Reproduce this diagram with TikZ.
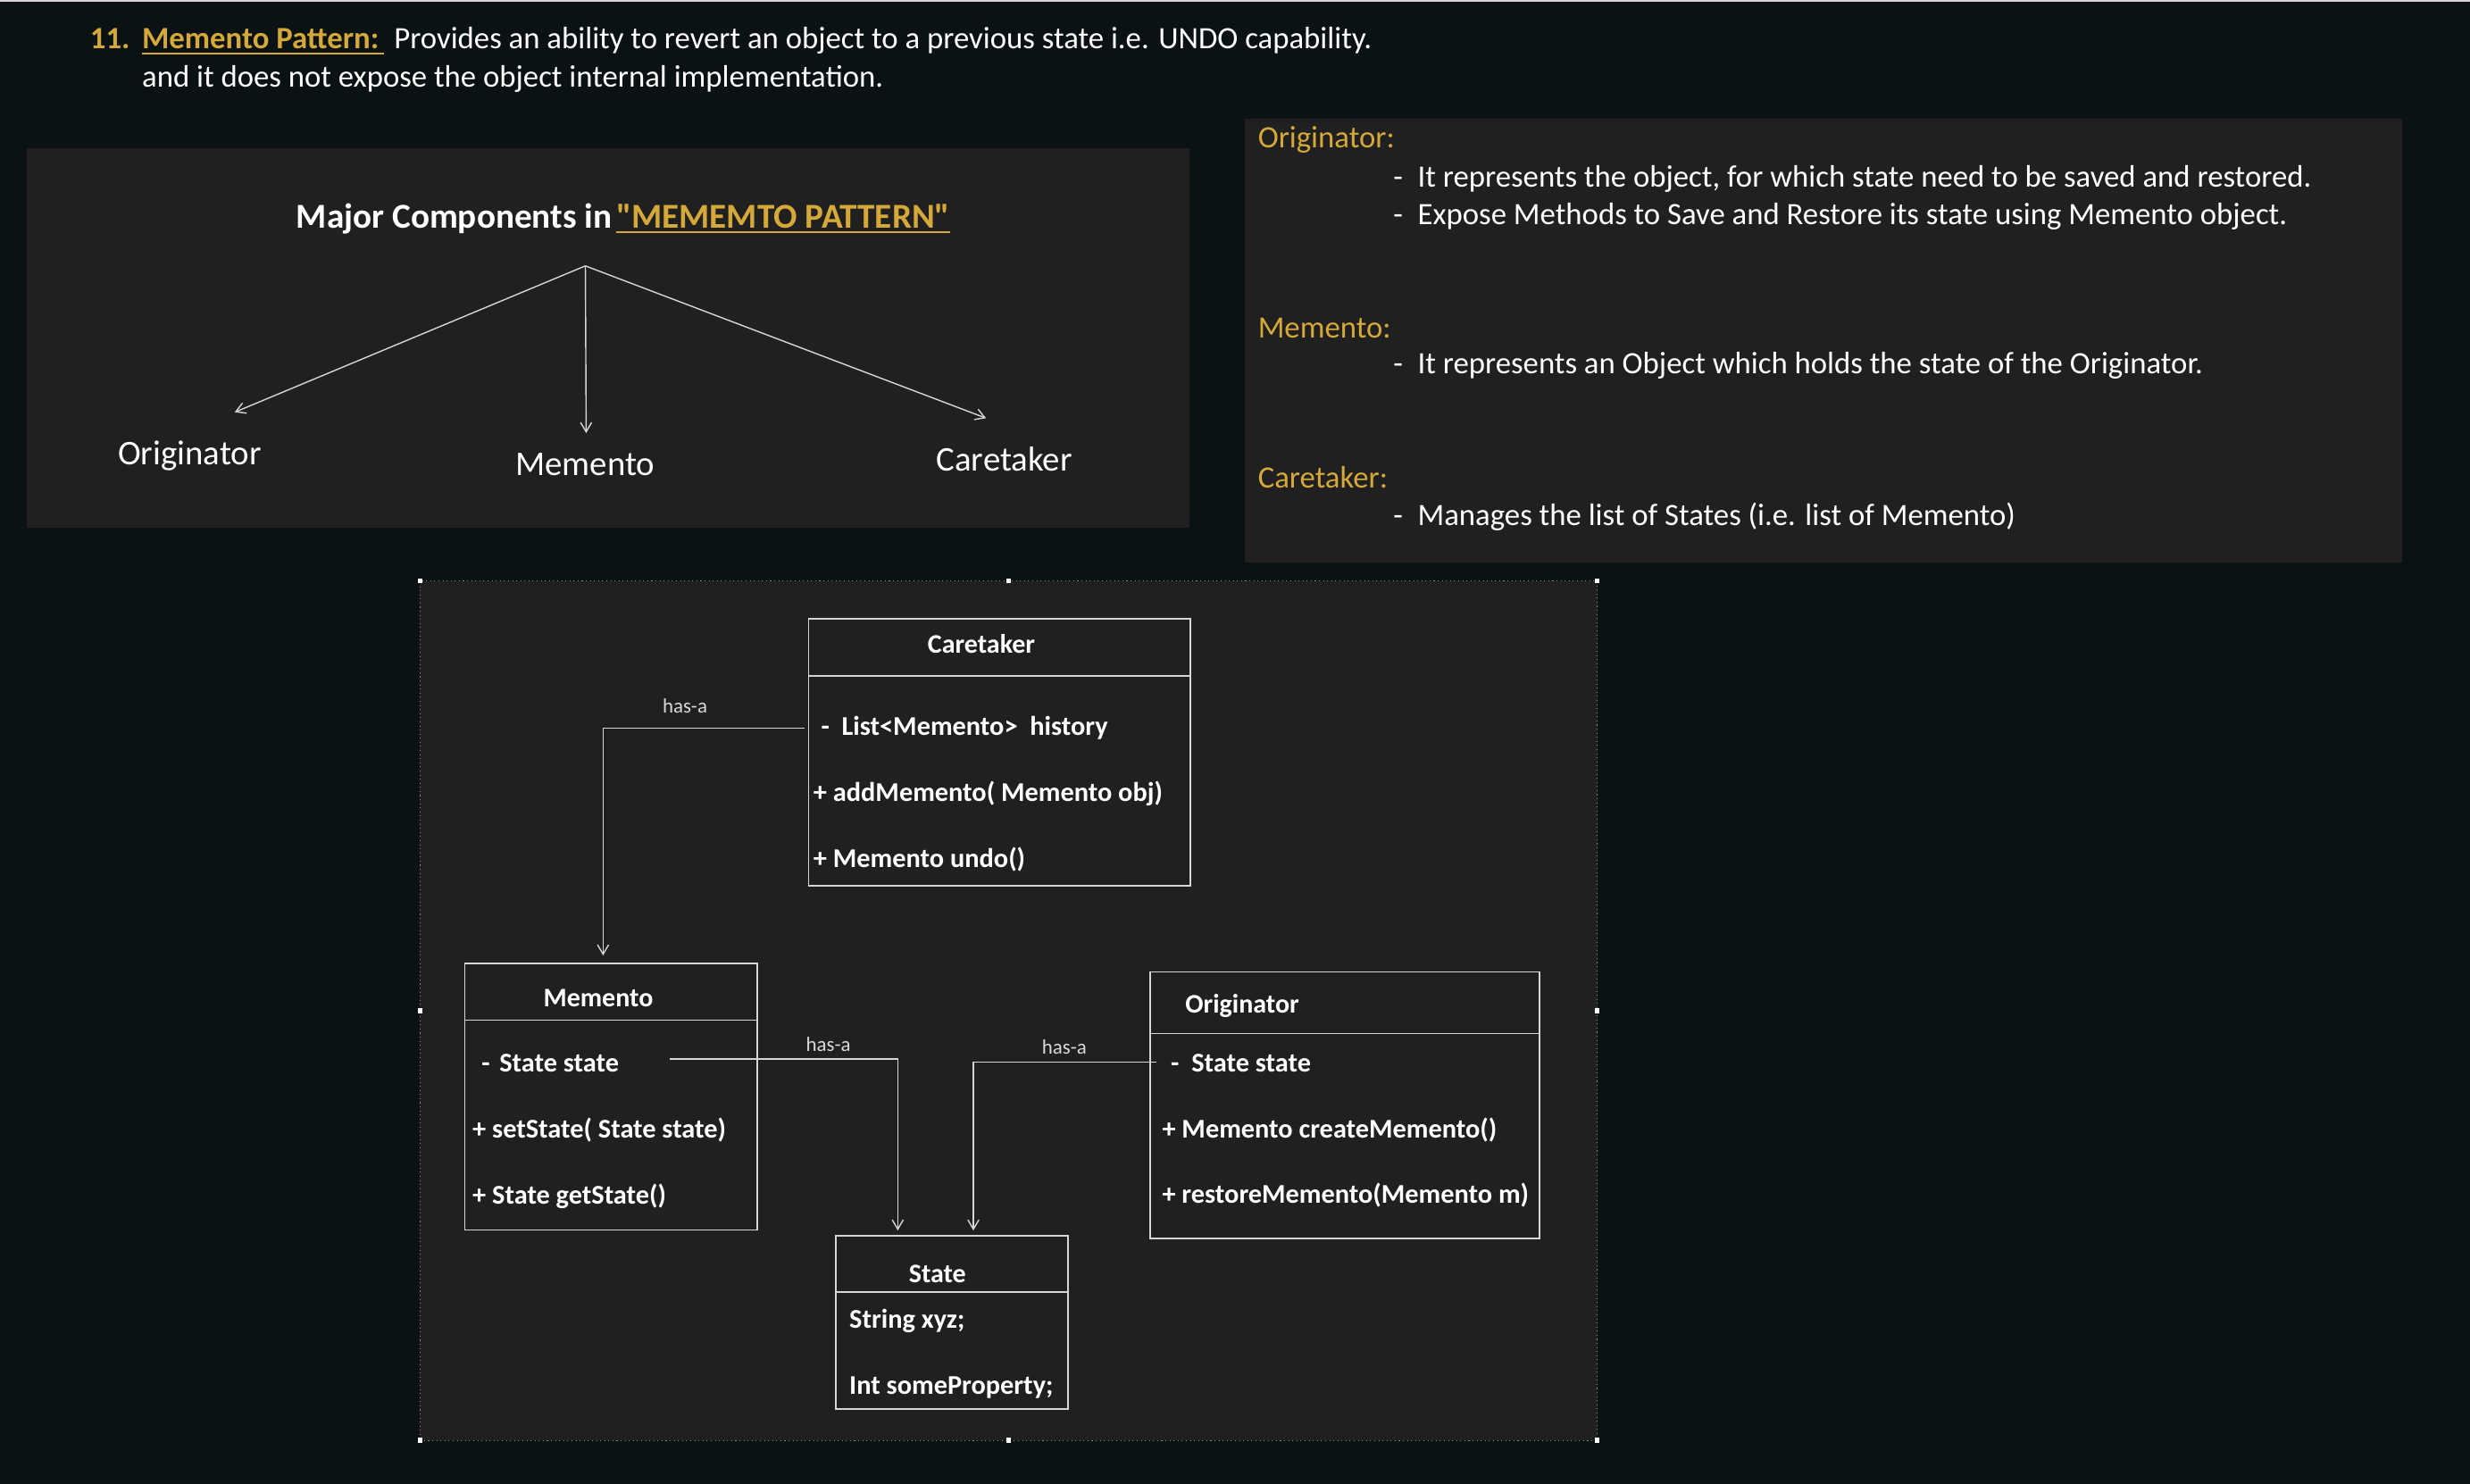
\documentclass[tikz,border=0pt]{standalone}
\usepackage{fontspec}
\setmainfont{Carlito}[Ligatures=TeXOff]
\usetikzlibrary{arrows.meta}

\definecolor{pagebg}{HTML}{0A1213}
\definecolor{panelbg}{HTML}{202020}
\definecolor{gold}{HTML}{D5A83A}
\definecolor{linegray}{HTML}{D6D6D6}

\begin{document}
\begin{tikzpicture}[x=1pt,y=-1pt,
                    every path/.style={>={Straight Barb[length=6pt,width=7pt]}},
                    panel/.style={fill=panelbg,anchor=north west,inner sep=0pt,outer sep=0pt},
                    uml box/.style={draw=linegray,line width=1pt,anchor=north west,inner sep=0pt,outer sep=0pt},
                    uml title/.style={anchor=base,inner sep=0pt,text=white,font=\fontsize{17}{20}\selectfont\bfseries},
                    member/.style={anchor=base west,inner sep=0pt,text=white,font=\fontsize{17.2}{20}\selectfont\bfseries},
                    hasa/.style={anchor=base,inner sep=0pt,text=white!85!black,font=\fontsize{13}{15}\selectfont},
                    link/.style={draw=linegray,line width=0.8pt,->},
                    body/.style={anchor=base west,inner sep=0pt,text=white,font=\fontsize{19.7}{23}\selectfont},
                    handle/.style={fill=white,minimum size=3pt,inner sep=0pt}]
  % page
  \fill[pagebg] (0,0) rectangle (1568,942);
  \fill[linegray] (0,0) rectangle (1568,1.2);

  % heading
  \node[body,text=gold] (num) at (57,31) {\bfseries 11.};
  \node[body,text=gold] (mp)  at (90,31) {\bfseries Memento Pattern:};
  \draw[gold,line width=1.6pt] ([yshift=-3pt]mp.base west) -- ([xshift=3pt,yshift=-3pt]mp.base east);
  \node[body] (intro1) at (250,31) {Provides an ability to revert an object to a previous state i.e. UNDO capability.};
  \node[body] (intro2) at (90,55) {and it does not expose the object internal implementation.};

  % major components
  \node[panel,minimum width=738pt,minimum height=241pt] (comp) at (17,94) {};
  \node[body,font=\fontsize{22.2}{26}\selectfont\bfseries] (major) at (188,145) {Major Components in};
  \node[body,text=gold,font=\fontsize{22.2}{26}\selectfont\bfseries] (mmp) at (391,145) {"MEMEMTO PATTERN"};
  \draw[gold,line width=1.3pt] ([yshift=-2.5pt]mmp.base west) -- ([yshift=-2.5pt]mmp.base east);
  \coordinate (apex) at (371.6,168.8);
  \coordinate (to-orig) at (149,261.7);
  \coordinate (to-mem) at (372.1,275);
  \coordinate (to-care) at (626,265.5);
  \node[body,anchor=base,font=\fontsize{22}{26}\selectfont] (lbl-orig) at (120.5,294.8) {Originator};
  \node[body,anchor=base,font=\fontsize{22}{26}\selectfont] (lbl-mem) at (371.5,302) {Memento};
  \node[body,anchor=base,font=\fontsize{22}{26}\selectfont] (lbl-care) at (637.5,299) {Caretaker};
  \draw[link] (apex) -- (to-orig);
  \draw[link] (apex) -- (to-mem);
  \draw[link] (apex) -- (to-care);

  % descriptions
  \node[panel,minimum width=734.6pt,minimum height=281.9pt] (desc) at (790.4,75.2) {};
  \node[body,text=gold] (d-orig) at (798.4,94.1) {Originator:};
  \node[body] (d-orig1) at (884.4,118.7) {\makebox[15.4pt][l]{-}It represents the object, for which state need to be saved and restored.};
  \node[body] (d-orig2) at (884.4,142.3) {\makebox[15.4pt][l]{-}Expose Methods to Save and Restore its state using Memento object.};
  \node[body,text=gold] (d-mem) at (798.4,214.5) {Memento:};
  \node[body] (d-mem1) at (884.4,237.5) {\makebox[15.4pt][l]{-}It represents an Object which holds the state of the Originator.};
  \node[body,text=gold] (d-care) at (798.4,309.9) {Caretaker:};
  \node[body] (d-care1) at (884.4,333.5) {\makebox[15.4pt][l]{-}Manages the list of States (i.e. list of Memento)};

  % class diagram
  \node[panel,draw=white!55!black,dotted,line width=0.6pt,minimum width=747.4pt,minimum height=545.5pt] (dgm) at (266.6,368.9) {};
  \foreach \a [count=\i] in {north west,north,north east,west,east,south west,south,south east}
    \node[handle] (h-\i) at (dgm.\a) {};

  \node[uml box,minimum width=242.4pt,minimum height=169.5pt] (care) at (513.3,392.7) {};
  \draw[linegray,line width=1pt] ([yshift=-36.6pt]care.north west) -- ([yshift=-36.6pt]care.north east);
  \node[uml title] (care-t) at (623,414.8) {Caretaker};
  \node[member] (care-hist) at (521.1,467.1) {\makebox[13pt][l]{-}List<Memento>\ \ history};
  \node[member] (care-add) at (516.2,508.7) {+ addMemento( Memento obj)};
  \node[member] (care-undo) at (516.2,550.8) {+ Memento undo()};

  \node[uml box,minimum width=185.9pt,minimum height=169.3pt] (mem) at (295,611.6) {};
  \draw[linegray,line width=1pt] ([yshift=-36.1pt]mem.north west) -- ([yshift=-36.1pt]mem.north east);
  \node[uml title] (mem-t) at (379.8,639) {Memento};
  \node[member] (mem-st) at (305.5,680.8) {\makebox[11.4pt][l]{-}State state};
  \node[member] (mem-set) at (299.8,722.4) {+ setState( State state)};
  \node[member] (mem-get) at (299.8,764.5) {+ State getState()};

  \node[uml box,minimum width=247pt,minimum height=169.2pt] (orig) at (730.3,617.1) {};
  \draw[linegray,line width=1pt] ([yshift=-39.1pt]orig.north west) -- ([yshift=-39.1pt]orig.north east);
  \node[uml title,anchor=base west] (orig-t) at (752.3,643) {Originator};
  \node[member] (orig-st) at (743,680.8) {\makebox[13.2pt][l]{-}State state};
  \node[member] (orig-new) at (737.6,722.4) {+ Memento createMemento()};
  \node[member] (orig-back) at (737.6,763.9) {+ restoreMemento(Memento m)};

  \node[uml box,minimum width=147.4pt,minimum height=109.8pt] (state) at (530.7,784.7) {};
  \draw[linegray,line width=1pt] ([yshift=-35.5pt]state.north west) -- ([yshift=-35.5pt]state.north east);
  \node[uml title] (state-t) at (595.1,814.5) {State};
  \node[member] (state-a) at (539,843.5) {String xyz;};
  \node[member] (state-b) at (539,885.4) {Int someProperty;};

  % has-a links
  \draw[link,shorten >=5pt] ([xshift=-10.4pt]care-hist.west) -| ([xshift=-5.1pt]mem.north);
  \node[hasa] (hasa-1) at (434.8,452.4) {has-a};
  \draw[link,shorten >=3.5pt] ([xshift=32.3pt,yshift=3pt]mem-st.east) -| ([xshift=-34.5pt]state.north);
  \node[hasa] (hasa-2) at (525.8,667.7) {has-a};
  \draw[link,shorten >=3.5pt] ([xshift=-8.8pt,yshift=1pt]orig-st.west) -| ([xshift=13.5pt]state.north);
  \node[hasa] (hasa-3) at (675.6,669.2) {has-a};
\end{tikzpicture}
\end{document}
